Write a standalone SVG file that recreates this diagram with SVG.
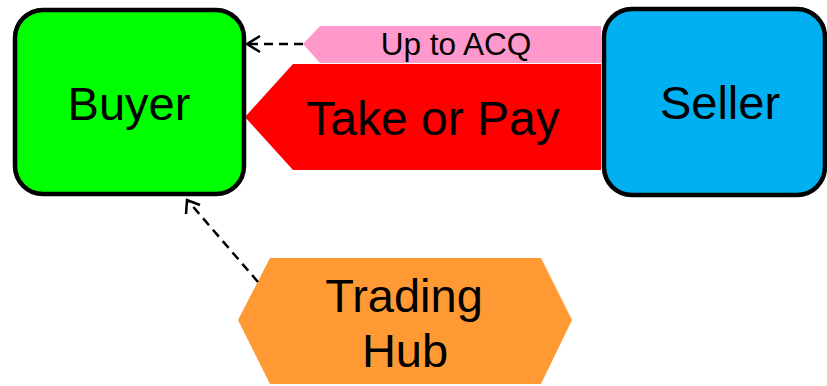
<svg xmlns="http://www.w3.org/2000/svg" width="827" height="386" viewBox="0 0 827 386">
<style>
.box{stroke:#000;stroke-width:4.5}
.t{font-family:"Liberation Sans",Arial,sans-serif;fill:#000;text-anchor:middle}
.big{font-size:47px}
.dash{stroke:#000;stroke-width:2.5;fill:none;stroke-dasharray:9 6}
.head{stroke:#000;stroke-width:2.5;fill:none}
</style>
<g id="take-or-pay">
<polygon points="293,64 601,64 601,170 293,170 245,117" fill="#FF0000"/>
<text class="t" x="433" y="135" font-size="48">Take or Pay</text>
</g>
<g id="up-to-acq">
<polygon points="320,26 601,26 601,63 320,63 303,44" fill="#FF99CC"/>
<text class="t" x="456" y="55" font-size="31.5">Up to ACQ</text>
</g>
<g id="buyer">
<rect class="box" x="15" y="10" width="229" height="184" rx="28" fill="#00FF00"/>
<text class="t big" x="129" y="120">Buyer</text>
</g>
<g id="seller">
<rect class="box" x="604" y="9" width="221" height="186" rx="28" fill="#00B0F0"/>
<text class="t big" x="720" y="119">Seller</text>
</g>
<g id="trading-hub">
<polygon points="270,258 541,258 572,320 541,384 270,384 238,320" fill="#FF9933"/>
<text class="t big" x="404" y="312">Trading</text>
<text class="t big" x="405" y="367">Hub</text>
</g>
<g id="connectors">
<line class="dash" x1="303" y1="44" x2="249" y2="44"/>
<polyline class="head" points="260,36 247,44 260,52"/>
<line class="dash" x1="258" y1="282" x2="189" y2="202"/>
<polyline class="head" points="186,214 187,200 200,205"/>
</g>
</svg>
